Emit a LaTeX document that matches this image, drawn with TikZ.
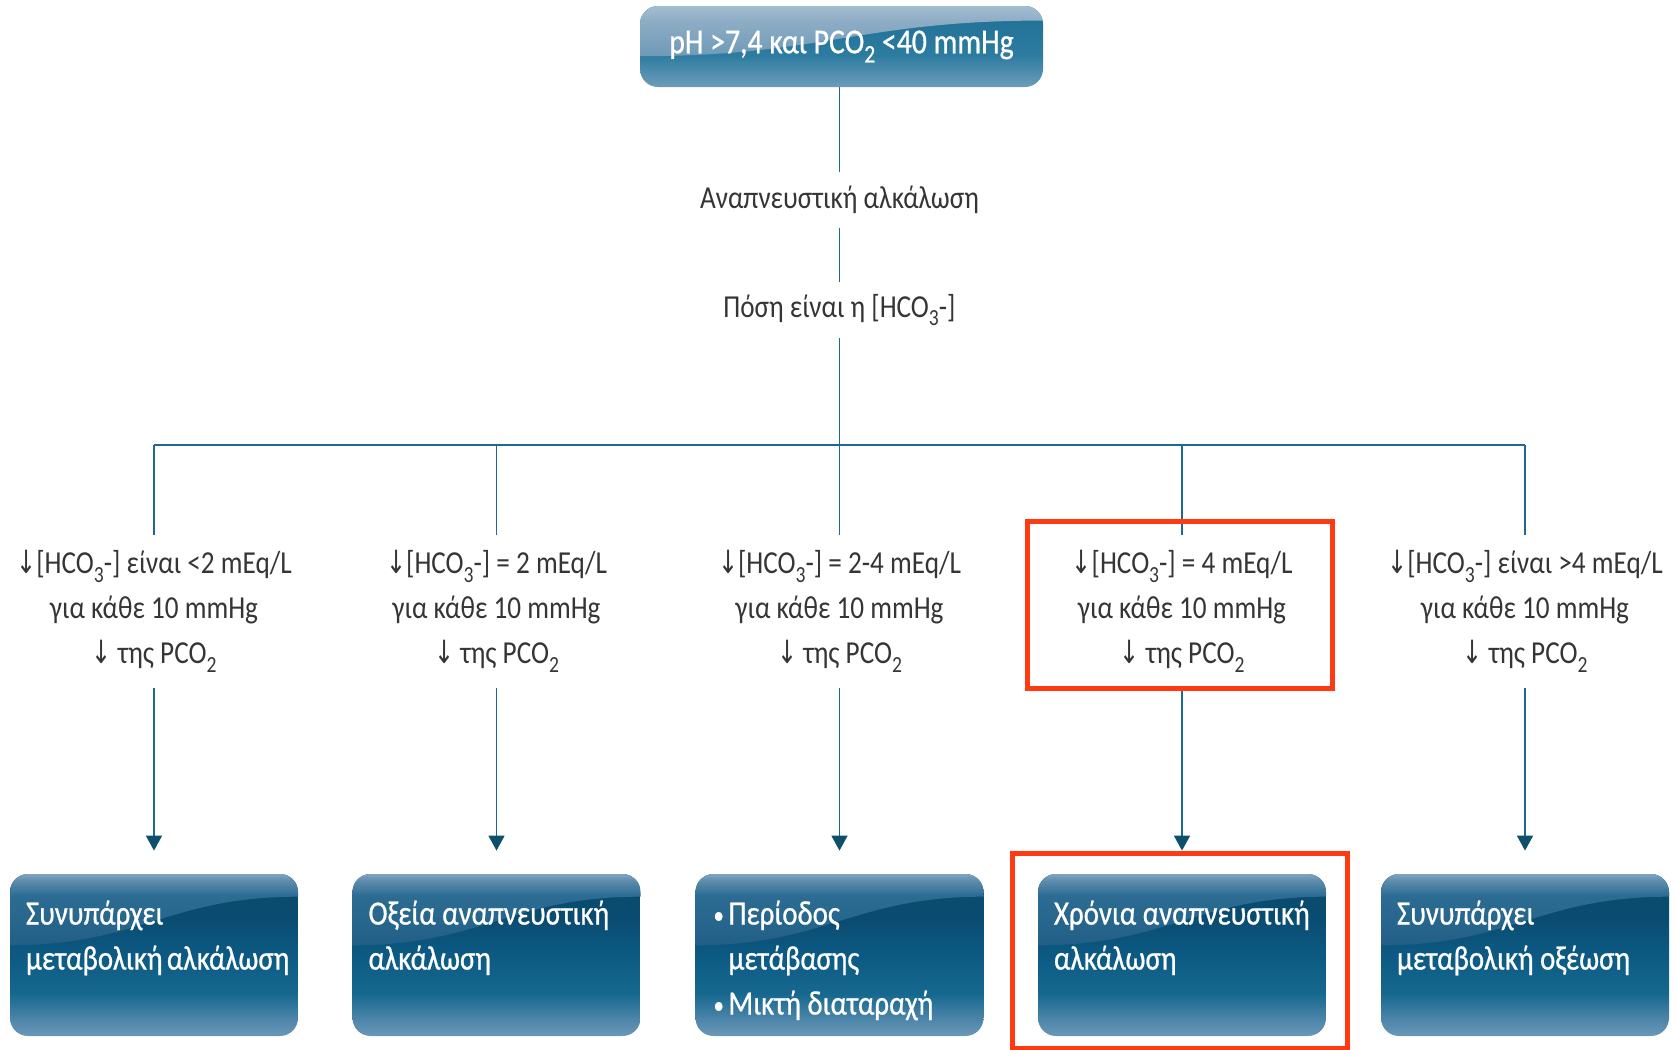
\documentclass[tikz,border=0pt]{standalone}
\usepackage{fontspec}
\setmainfont{Carlito}[FakeStretch=0.85]
\newfontfamily\boxfont{Carlito}[FakeStretch=0.85,FakeBold=0.7]
\newfontfamily\arrowfont{DejaVu Sans}[FakeStretch=0.75]
\usetikzlibrary{arrows.meta,calc}

\definecolor{linecol}{HTML}{1E6A8E}
\definecolor{tipcol}{HTML}{0E4F6E}
\definecolor{txtgray}{HTML}{353535}
\definecolor{framered}{HTML}{FF3A12}
% outcome boxes
\definecolor{bxbot}{HTML}{6A98B8}
\definecolor{bxlow}{HTML}{4E86AA}
\definecolor{bxmid}{HTML}{16688F}
\definecolor{bxdeep}{HTML}{0C5A83}
\definecolor{bxdark}{HTML}{0A4B70}
\definecolor{bxgla}{HTML}{225F86}
\definecolor{bxglb}{HTML}{2C6C93}
\definecolor{bxglc}{HTML}{5C8BAD}
\definecolor{bxgld}{HTML}{80A4BF}
% head box
\definecolor{tplow}{HTML}{6D9CBA}
\definecolor{tpmid}{HTML}{2C7BA0}
\definecolor{tpdark}{HTML}{1F6F96}
\definecolor{tpgla}{HTML}{6E9AB8}
\definecolor{tpglb}{HTML}{8EADC5}
\definecolor{tpglc}{HTML}{A3BDD0}

\pgfdeclareverticalshading{bxbase}{100bp}{color(0bp)=(bxbot); color(25bp)=(bxbot); color(30bp)=(bxlow); color(38bp)=(bxmid); color(50bp)=(bxdeep); color(62bp)=(bxdark); color(75bp)=(bxdark); color(100bp)=(bxdark)}
\pgfdeclareverticalshading{bxcap}{100bp}{color(0bp)=(bxgla); color(25bp)=(bxgla); color(60bp)=(bxglb); color(70bp)=(bxglc); color(75bp)=(bxgld); color(100bp)=(bxgld)}
\pgfdeclareverticalshading{tpbase}{100bp}{color(0bp)=(tplow); color(25bp)=(tplow); color(45bp)=(tpmid); color(75bp)=(tpdark); color(100bp)=(tpdark)}
\pgfdeclareverticalshading{tpcap}{100bp}{color(0bp)=(tpgla); color(25bp)=(tpgla); color(60bp)=(tpglb); color(75bp)=(tpglc); color(100bp)=(tpglc)}

\newcommand\dn{{\arrowfont ↓}}
\newcommand\sbs[1]{\raisebox{-0.55ex}{\scalebox{0.72}{#1}}}

% glossy fill of a rounded box: base shading plus a lighter cap with a curved lower edge
% #1 base shading, #2 cap shading, #3/#4 depth of the cap edge at left/right (fraction of height)
\newcommand\glosspaint[4]{%
  \shade[sharp corners,shading=#1]
    (path picture bounding box.south west) rectangle (path picture bounding box.north east);
  \shade[sharp corners,shading=#2]
    let \p1=(path picture bounding box.south west),
        \p2=(path picture bounding box.north east) in
    (\x1,\y2) -- ({\x1},{\y2-#3*(\y2-\y1)})
    .. controls ({\x1+0.45*(\x2-\x1)},{\y2-#3*(\y2-\y1)})
           and ({\x1+0.55*(\x2-\x1)},{\y2-#4*(\y2-\y1)})
    .. ({\x2},{\y2-#4*(\y2-\y1)}) -- (\x2,\y2) -- cycle;}

\tikzset{
  link/.style={draw=linecol, line width=0.8pt},
  arrowlink/.style={link, -{Triangle[width=8pt,length=7.5pt,color=tipcol]}, shorten >=11.5pt},
  graytext/.style={text=txtgray, font=\fontsize{16}{22.5}\selectfont, inner sep=0pt},
  crit/.style={graytext, align=center, minimum height=76.5pt, minimum width=150pt},
  headbox/.style={rounded corners=9pt, text=white, inner sep=0pt,
    minimum width=201.5pt, minimum height=40.5pt,
    font=\boxfont\fontsize{17.5}{22}\selectfont,
    path picture={\glosspaint{tpbase}{tpcap}{0.62}{0.18}}},
  endbox/.style={rounded corners=9pt, text=white, inner xsep=8pt, inner ysep=8pt,
    font=\boxfont\fontsize{17}{22.5}\selectfont,
    path picture={\glosspaint{bxbase}{bxcap}{0.44}{0.14}}},
  redframe/.style={draw=framered, line width=2.5pt},
}

\newcommand\boxtext[1]{\parbox[c][65pt][t]{128pt}{\vspace*{5.3pt}\raggedright #1}}
\newcommand\bul{\makebox[8.5pt][l]{\hspace{1pt}\raisebox{0.6pt}{\scalebox{0.72}{•}}}}

\begin{document}
\begin{tikzpicture}[x=0.5pt,y=-0.5pt]
\useasboundingbox (0,0) rectangle (1677,1050);

% header
\node[headbox] (head) at (841.5,46.5) {\raisebox{-1.2pt}{pH >7,4 και PCO\sbs{2} <40 mmHg}};
\node[graytext, minimum height=27.5pt] (diag) at (839.5,200) {Αναπνευστική αλκάλωση};
\node[graytext, minimum height=28pt] (ask) at (839.5,310) {Πόση είναι η [HCO\sbs{3}-]};

% criteria
\node[crit] (c1) at (154,611.5) {\dn[HCO\sbs{3}-] είναι <2 mEq/L\\για κάθε 10 mmHg\\\dn\ της PCO\sbs{2}};
\node[crit] (c2) at (496.5,611.5) {\dn[HCO\sbs{3}-] = 2 mEq/L\\για κάθε 10 mmHg\\\dn\ της PCO\sbs{2}};
\node[crit] (c3) at (839.5,611.5) {\dn[HCO\sbs{3}-] = 2-4 mEq/L\\για κάθε 10 mmHg\\\dn\ της PCO\sbs{2}};
\node[crit] (c4) at (1182,611.5) {\dn[HCO\sbs{3}-] = 4 mEq/L\\για κάθε 10 mmHg\\\dn\ της PCO\sbs{2}};
\node[crit] (c5) at (1525,611.5) {\dn[HCO\sbs{3}-] είναι >4 mEq/L\\για κάθε 10 mmHg\\\dn\ της PCO\sbs{2}};

% outcomes
\node[endbox] (b1) at (154,955) {\boxtext{Συνυπάρχει\\μεταβολική~αλκάλωση}};
\node[endbox] (b2) at (496.5,955) {\boxtext{Οξεία~αναπνευστική\\αλκάλωση}};
\node[endbox] (b3) at (839.5,955) {\boxtext{\bul Περίοδος\\\hspace*{8.5pt}μετάβασης\\\bul Μικτή~διαταραχή}};
\node[endbox] (b4) at (1182,955) {\boxtext{Χρόνια~αναπνευστική\\αλκάλωση}};
\node[endbox] (b5) at (1525,955) {\boxtext{Συνυπάρχει\\μεταβολική~οξέωση}};

% connectors
\coordinate (hub) at (839.5,445);
\draw[link] (diag |- head.south) -- (diag);
\draw[link] (diag) -- (ask);
\draw[link] (ask) -- (hub);
\draw[link] (c1.north |- hub) -- (c5.north |- hub);
\foreach \i in {1,...,5}{
  \draw[link] (c\i.north |- hub) -- (c\i.north);
  \draw[arrowlink] (c\i.south) -- (b\i.north);
}

% highlighted branch
\draw[redframe] (1027,521) rectangle (1332,688);
\draw[redframe] (1012,853) rectangle (1347,1048);
\end{tikzpicture}
\end{document}
